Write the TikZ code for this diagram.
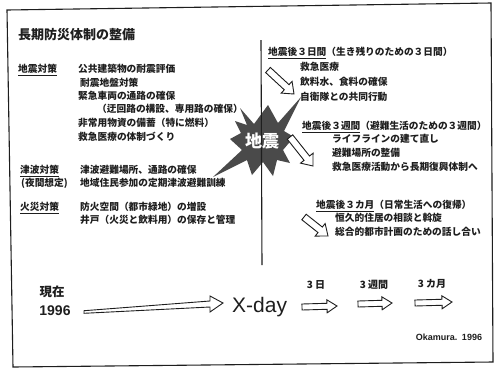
\documentclass[tikz,border=0pt]{standalone}
\usepackage{fontspec}
\setmainfont{Liberation Sans}
\newfontfamily\jp{Noto Sans CJK JP}
\usetikzlibrary{calc}
\definecolor{ink}{HTML}{1E1E1E}
\definecolor{starfill}{HTML}{4A4A4A}
\tikzset{
  jt/.style={font=\jp\bfseries\fontsize{9.7}{11}\selectfont, text=ink, inner sep=0pt, anchor=west, text height=8.5pt, text depth=1.2pt},
  titletext/.style={font=\jp\bfseries\fontsize{13}{15}\selectfont, text=ink, inner sep=0pt, anchor=west},
  timetext/.style={font=\jp\bfseries\fontsize{10}{12}\selectfont, text=ink, inner sep=0pt},
  arrowline/.style={draw=ink, line width=0.9pt, fill=white, line join=miter},
  frameline/.style={draw=ink, line width=1.1pt},
}
\newcommand\hollowarrow[5]{%
  \coordinate (hs) at ($(#2)!#5!(#1)$);
  \draw[arrowline] ($(#1)!#3!90:(#2)$) -- ($(hs)!#3!-90:(#1)$) -- ($(hs)!#4!-90:(#1)$) -- (#2)
    -- ($(hs)!#4!90:(#1)$) -- ($(hs)!#3!90:(#1)$) -- ($(#1)!#3!-90:(#2)$) -- cycle;}
\begin{document}
\begin{tikzpicture}[x=1pt,y=-1pt]
\useasboundingbox (0,0) rectangle (496,368);
\fill[white] (0,0) rectangle (496,368);
% frame
\draw[frameline] (7,10) -- (491,3) -- (493,362) -- (13,367) -- cycle;
% title
\node[titletext] (title) at (18,35) {長期防災体制の整備};
% left: earthquake measures
\node[jt] (h1) at (18,69) {\underline{地震対策}};
\node[jt] (l1a) at (78,69) {公共建築物の耐震評価};
\node[jt] (l1b) at (80,83) {耐震地盤対策};
\node[jt] (l1c) at (78,96) {緊急車両の通路の確保};
\node[jt] (l1d) at (97,109) {（迂回路の構設、専用路の確保）};
\node[jt] (l1e) at (78,123) {非常用物資の備蓄（特に燃料）};
\node[jt] (l1f) at (78,137) {救急医療の体制づくり};
% tsunami
\node[jt] (h2) at (20,170) {\underline{津波対策}};
\node[jt] (h2b) at (21,183) {(夜間想定)};
\node[jt] (l2a) at (80,170) {津波避難場所、通路の確保};
\node[jt] (l2b) at (80,183) {地域住民参加の定期津波避難訓練};
% fire
\node[jt] (h3) at (20,207) {\underline{火災対策}};
\node[jt] (l3a) at (80,207) {防火空間（都市緑地）の増設};
\node[jt] (l3b) at (80,220) {井戸（火災と飲料用）の保存と管理};
% starburst
\fill[starfill] (240,108) -- (254,124) -- (268,105) -- (278,123) -- (301,97) -- (284,131)
  -- (294,137) -- (283,150) -- (290,163) -- (277,160) -- (273,176) -- (263,162)
  -- (252,175) -- (247,160) -- (213,177) -- (242,150) -- (230,139) -- (241,133)
  -- (235,121) -- (247,125) -- cycle;
% vertical line
\coordinate (vtop) at (261,40);
\coordinate (vbot) at (262,265);
\draw[ink, line width=1.1pt] (vtop) -- (vbot);
\node[font=\jp\bfseries\fontsize{17}{19}\selectfont, text=white, inner sep=0pt] (quake) at (262,141) {地震};
% right: after 3 days
\node[jt] (r1h) at (268,52) {\underline{地震後３日間}（生き残りのための３日間）};
\node[jt] (r1a) at (300,67) {救急医療};
\node[jt] (r1b) at (300,82) {飲料水、食料の確保};
\node[jt] (r1c) at (300,97) {自衛隊との共同行動};
\coordinate (a1s) at (268,70);
\coordinate (a1e) at (294,94);
\hollowarrow{a1s}{a1e}{3.5pt}{8pt}{10pt}
% after 3 weeks
\node[jt] (r2h) at (302,126) {\underline{地震後３週間}（避難生活のための３週間）};
\node[jt] (r2a) at (332,139) {ライフラインの建て直し};
\node[jt] (r2b) at (332,153) {避難場所の整備};
\node[jt] (r2c) at (332,167) {救急医療活動から長期復興体制へ};
\coordinate (a2s) at (290,137);
\coordinate (a2e) at (313,166);
\hollowarrow{a2s}{a2e}{3.5pt}{8pt}{10pt}
% after 3 months
\node[jt] (r3h) at (316,205) {\underline{地震後３カ月}（日常生活への復帰）};
\node[jt] (r3a) at (335,218) {恒久的住居の相談と斡旋};
\node[jt] (r3b) at (335,232) {総合的都市計画のための話し合い};
\coordinate (a3s) at (304,217);
\coordinate (a3e) at (328,236);
\hollowarrow{a3s}{a3e}{3.5pt}{8pt}{10pt}
% timeline
\node[font=\jp\bfseries\fontsize{12.5}{14}\selectfont, text=ink, inner sep=0pt] (now) at (52,292) {現在};
\node[font=\bfseries\fontsize{14}{16}\selectfont, text=ink, inner sep=0pt] (y1996) at (55,311) {1996};
\node[font=\fontsize{21}{24}\selectfont, text=ink, inner sep=0pt, anchor=west] (xday) at (232,307) {X-day};
\coordinate (bigs) at (84,312);
\coordinate (bige) at (223,303);
\coordinate (bighs) at (210,304);
\draw[arrowline] ($(bigs)+(0,-1.3)$) -- ($(bighs)+(0,-3)$) -- ($(bighs)+(0,-8)$) -- (bige)
  -- ($(bighs)+(0,8)$) -- ($(bighs)+(0,3)$) -- ($(bigs)+(0,1.3)$) -- cycle;
\node[timetext] (t3d) at (316,285) {3 日};
\node[timetext] (t3w) at (374,285) {3 週間};
\node[timetext] (t3m) at (432,284) {3 カ月};
\coordinate (s1s) at (302,307); \coordinate (s1e) at (337,306);
\hollowarrow{s1s}{s1e}{3pt}{6.5pt}{10pt}
\coordinate (s2s) at (358,304); \coordinate (s2e) at (392,303);
\hollowarrow{s2s}{s2e}{3pt}{6.5pt}{10pt}
\coordinate (s3s) at (415,303); \coordinate (s3e) at (452,302);
\hollowarrow{s3s}{s3e}{3pt}{6.5pt}{10pt}
\node[font=\bfseries\fontsize{9}{11}\selectfont, text=ink, inner sep=0pt] (credit) at (449,337) {Okamura.\enspace 1996};
\end{tikzpicture}
\end{document}
